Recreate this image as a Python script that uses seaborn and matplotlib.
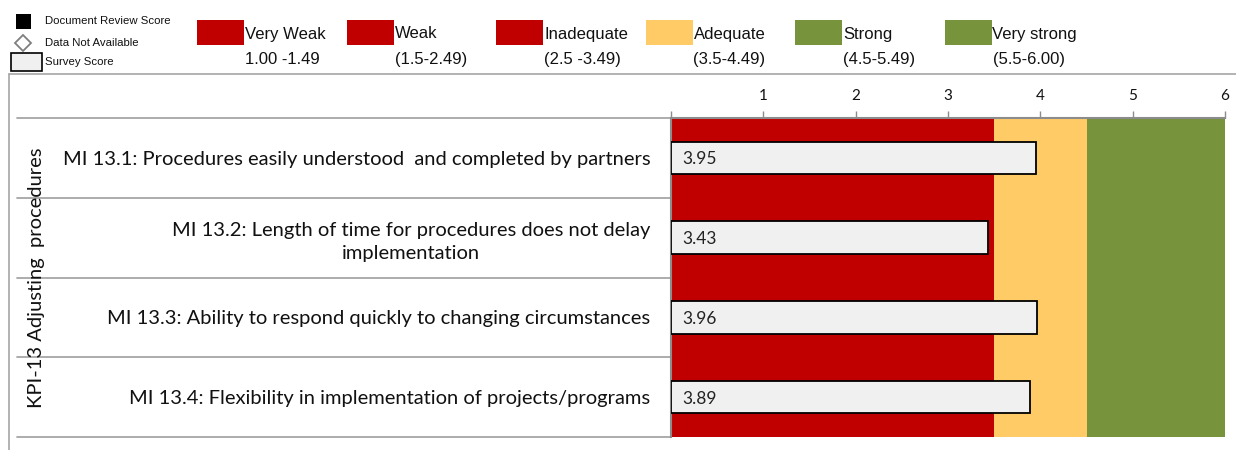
import matplotlib
matplotlib.use("Agg")
import matplotlib.pyplot as plt
import seaborn as sns
import pandas as pd
from matplotlib.patches import Rectangle
from matplotlib.lines import Line2D
import matplotlib.transforms as mtransforms

# ---------------- data ----------------
indicators = [
    "MI 13.1: Procedures easily understood  and completed by partners",
    "MI 13.2: Length of time for procedures does not delay\nimplementation",
    "MI 13.3: Ability to respond quickly to changing circumstances",
    "MI 13.4: Flexibility in implementation of projects/programs",
]
survey_scores = [3.95, 3.43, 3.96, 3.89]
group_label = "KPI-13 Adjusting  procedures"

band_starts = [0.0, 3.5, 4.5]
band_ends = [3.5, 4.5, 6.0]
band_colors = ["#C00000", "#FFCB66", "#77933C"]

rating_names = ["Very Weak", "Weak", "Inadequate", "Adequate", "Strong", "Very strong"]
rating_ranges = ["1.00 -1.49", "(1.5-2.49)", "(2.5 -3.49)", "(3.5-4.49)", "(4.5-5.49)", "(5.5-6.00)"]
rating_colors = ["#C00000", "#C00000", "#C00000", "#FFCB66", "#77933C", "#77933C"]

key_labels = ["Document Review Score", "Data Not Available", "Survey Score"]

x_ticks = [0, 1, 2, 3, 4, 5, 6]
x_tick_labels = ["", "1", "2", "3", "4", "5", "6"]

# ---------------- style ----------------
sns.set_style("white")
plt.rcParams["font.family"] = ["Lato", "DejaVu Sans"]

W, H = 1236, 450
fig = plt.figure(figsize=(W / 100, H / 100), dpi=100)

def fx(px):
    return px / W

def fy(py):
    return 1 - py / H

ax_l, ax_r, ax_t, ax_b = 671, 1225, 118, 437
ax = fig.add_axes([fx(ax_l), fy(ax_b), fx(ax_r - ax_l), (ax_b - ax_t) / H])

# background bands
for s, e, c in zip(band_starts, band_ends, band_colors):
    ax.axvspan(s, e, color=c, lw=0, zorder=0)

df = pd.DataFrame({"indicator": indicators, "score": survey_scores})
sns.barplot(data=df, x="score", y="indicator", orient="h", width=0.41,
            color="#F0F0F0", edgecolor="black", linewidth=1.3,
            saturation=1, ax=ax, zorder=3)

for i, v in enumerate(survey_scores):
    ax.annotate(f"{v:.2f}", xy=(0, i), xytext=(8, -1), textcoords="offset points",
                va="center", ha="left", fontsize=12.5, color="#222222", zorder=5)

ax.set_xlim(0, 6)
ax.set_ylim(len(indicators) - 0.5, -0.5)
ax.set_xlabel("")
ax.set_ylabel("")
ax.xaxis.tick_top()
ax.set_xticks(x_ticks)
ax.set_xticklabels(x_tick_labels, fontsize=11)
ax.tick_params(axis="x", direction="out", length=5, width=1, color="#8C8C8C",
               pad=6, labelcolor="#111111")
ax.tick_params(axis="y", length=0, pad=15, labelsize=14.5, labelcolor="#111111")
for lbl in ax.get_yticklabels():
    lbl.set_multialignment("center")
    lbl.set_linespacing(1.45)

for side in ["right", "bottom"]:
    ax.spines[side].set_visible(False)
for side in ["top", "left"]:
    ax.spines[side].set_color("#8C8C8C")
    ax.spines[side].set_linewidth(1.5)

# separator lines for category rows
trans = mtransforms.blended_transform_factory(ax.transAxes, ax.transData)
x0 = (17 - ax_l) / (ax_r - ax_l)
for k in range(len(indicators) + 1):
    y = k - 0.5
    ax.add_line(Line2D([x0, 0], [y, y], transform=trans, color="#A6A6A6",
                       lw=1.3, clip_on=False))

# group label (vertical)
fig.text(fx(37), fy(278), group_label, rotation=90, ha="center", va="center",
         fontsize=14.5, color="#111111")

# outer frame
fig.add_artist(Line2D([fx(9), 1], [fy(74), fy(74)], color="#A6A6A6", lw=1.2))
fig.add_artist(Line2D([fx(9), fx(9)], [fy(74), 0], color="#A6A6A6", lw=1.2))

# ---- top-left key ----
key_font = ["Liberation Sans", "DejaVu Sans"]
fig.add_artist(Rectangle((fx(16), fy(29)), fx(15), 15 / H, color="black", lw=0))
fig.add_artist(Line2D([fx(23)], [fy(43)], marker="D", markersize=8,
                      markerfacecolor="white", markeredgecolor="#7F7F7F",
                      markeredgewidth=1.3, linestyle="none"))
fig.add_artist(Rectangle((fx(11), fy(71)), fx(31), 18 / H, facecolor="#F0F0F0",
                         edgecolor="black", lw=1.2))
for lab, yy in zip(key_labels, [21, 43, 62]):
    fig.text(fx(45), fy(yy), lab, ha="left", va="center", fontsize=8.2,
             family=key_font, color="#111111")

# ---- rating legend ----
for i, (name, rng, col) in enumerate(zip(rating_names, rating_ranges, rating_colors)):
    left = 197 + i * 149.5
    fig.add_artist(Rectangle((fx(left), fy(45)), fx(47), 25 / H, color=col, lw=0))
    fig.text(fx(left + 48), fy(34), name, ha="left", va="center", fontsize=12,
             family=key_font, color="#111111")
    fig.text(fx(left + 48), fy(59), rng, ha="left", va="center", fontsize=12,
             family=key_font, color="#111111")

fig.savefig("out.png", dpi=100)
